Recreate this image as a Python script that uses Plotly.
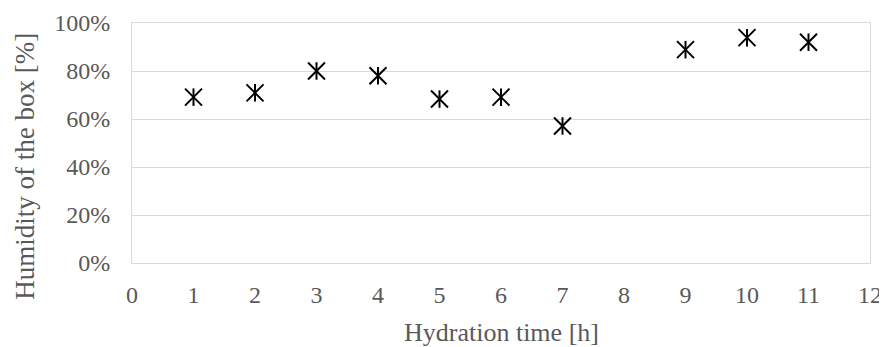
import plotly.graph_objects as go

hours = [1, 2, 3, 4, 5, 6, 7, 9, 10, 11]
humidity = [0.691, 0.709, 0.800, 0.780, 0.683, 0.691, 0.571, 0.889, 0.939, 0.920]
x_ticks = list(range(0, 13))
y_ticks = [0, 0.2, 0.4, 0.6, 0.8, 1.0]
x_title = "Hydration time [h]"
y_title = "Humidity of the box [%]"

fig = go.Figure()
fig.add_trace(go.Scatter(
    x=hours, y=humidity, mode="markers",
    marker=dict(symbol="x-thin-open", size=17, color="black",
                line=dict(color="black", width=2)),
    showlegend=False, hoverinfo="skip"))
fig.add_trace(go.Scatter(
    x=hours, y=humidity, mode="markers",
    marker=dict(symbol="line-ns-open", size=12.5, color="black",
                line=dict(color="black", width=2)),
    showlegend=False))

font_family = "Liberation Serif, Times New Roman, serif"
grey = "#595959"
# page body has an 8px margin, so the figure is 8px smaller and margins shifted
fig.update_layout(
    width=879, height=339,
    margin=dict(l=124, r=17, t=15, b=84, autoexpand=False),
    plot_bgcolor="white", paper_bgcolor="white",
    font=dict(family=font_family, color=grey, size=24),
    xaxis=dict(
        range=[0, 12], tickvals=x_ticks, ticktext=[str(t) for t in x_ticks],
        showgrid=False, zeroline=False, automargin=False,
        showline=True, linecolor="#d9d9d9", linewidth=1, mirror=True,
        ticks="", ticklen=0, ticklabelstandoff=10,
        tickfont=dict(size=24, family=font_family, color=grey),
    ),
    yaxis=dict(
        range=[0, 1.0], tickvals=y_ticks, tickformat=".0%",
        showgrid=True, gridcolor="#d9d9d9", gridwidth=1,
        zeroline=False, automargin=False,
        showline=True, linecolor="#d9d9d9", linewidth=1, mirror=True,
        ticks="", ticklen=0, ticklabelstandoff=16,
        tickfont=dict(size=24, family=font_family, color=grey),
    ),
    annotations=[
        dict(text=x_title, xref="paper", yref="paper", x=0.5, y=-0.29,
             xanchor="center", yanchor="middle", showarrow=False,
             font=dict(size=26, family=font_family, color=grey)),
        dict(text=y_title, xref="paper", yref="paper", x=-0.145, y=0.405,
             xanchor="center", yanchor="middle", showarrow=False, textangle=-90,
             font=dict(size=27, family=font_family, color=grey)),
    ],
)

fig.write_html("out.html")
